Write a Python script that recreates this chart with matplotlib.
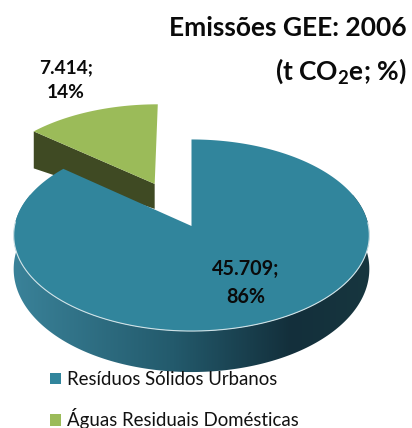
import numpy as np
import matplotlib
matplotlib.use("Agg")
import matplotlib.pyplot as plt
from matplotlib.patches import Polygon, Patch
from matplotlib.colors import LinearSegmentedColormap

categories = ["Resíduos Sólidos Urbanos", "Águas Residuais Domésticas"]
values = [45709, 7414]
title_lines = ["Emissões GEE: 2006", r"(t CO$_{\mathbf{2}}$e; %)"]

plt.rcParams["font.family"] = "Lato"
plt.rcParams["mathtext.fontset"] = "custom"
plt.rcParams["mathtext.bf"] = "Lato:bold"
plt.rcParams["mathtext.rm"] = "Lato:bold"

BLUE, GREEN, GREEN_SIDE = "#31859c", "#9bbb59", "#3f4a23"
side_cmap = LinearSegmentedColormap.from_list(
    "side", [(0, "#3a8299"), (0.45, "#235a6c"), (0.78, "#132f3b"), (1, "#17363f")])

CX, CY, A, B, K = 191.5, 226.0, 177.0, 94.9, 0.0966


def project(u, v):
    w = 1 + K * v
    return CX + A * u / w, CY - B * v / w


fig = plt.figure(figsize=(4.12, 4.28), dpi=100)
ax = fig.add_axes([0, 0, 1, 1])

fractions = np.array(values) / sum(values)
end_blue = 2 * np.pi * fractions[0]

# Blue slice: side wall filled with a left-to-right gradient, then the top
thetas = np.linspace(np.radians(70), np.radians(290), 220)
u, v = np.sin(thetas), np.cos(thetas)
sx, sy = project(u, v)
depth = 33 - 8 * v
wall = Polygon(list(zip(sx, sy)) + list(zip(sx[::-1], (sy + depth)[::-1])), closed=True,
               fc="none", ec="none", zorder=3)
ax.add_patch(wall)
grad = ax.imshow(np.linspace(0, 1, 256).reshape(1, -1), cmap=side_cmap, aspect="auto",
                 extent=(13, 370, 428, 0), zorder=3)
grad.set_clip_path(wall)

arc = np.linspace(0, end_blue, 300)
xs, ys = project(np.sin(arc), np.cos(arc))
ax.add_patch(Polygon(list(zip(xs, ys)) + [(CX, CY)], closed=True, fc=BLUE, ec="none", zorder=4))
front = (np.cos(arc) < 0.05)
ax.plot(xs[front], ys[front], color="#cfe2e7", lw=0.8, zorder=5)

# Green slice, pulled away from the centre
mid = end_blue + np.pi * fractions[1]
E = 0.512
eu, ev = E * np.sin(mid), E * np.cos(mid)
arc2 = np.linspace(end_blue, 2 * np.pi, 80)
gx, gy = project(eu + np.sin(arc2), ev + np.cos(arc2))
tx, ty = project(eu, ev)
ax.add_patch(Polygon([(gx[0], gy[0]), (gx[0], gy[0] + 37), (tx, ty + 25), (tx, ty)],
                     closed=True, fc=GREEN_SIDE, ec="none", zorder=2))
ax.add_patch(Polygon(list(zip(gx, gy)) + [(tx, ty)], closed=True, fc=GREEN, ec="none", zorder=2.5))


def label(i):
    return f"{values[i]:,}".replace(",", ".") + f";\n{fractions[i] * 100:.0f}%"


ax.text(246, 283, label(0), ha="center", va="center", fontsize=14.2, fontweight="bold",
        linespacing=1.55, color="#0a0a0a", zorder=6)
ax.text(66, 80, label(1), ha="center", va="center", fontsize=13.8, fontweight="bold",
        linespacing=1.6, color="#0a0a0a", zorder=6)

ax.text(407, 28, title_lines[0], ha="right", va="center", fontsize=19, fontweight="bold", color="#0a0a0a")
ax.text(407, 71, title_lines[1], ha="right", va="center", fontsize=19, fontweight="bold", color="#0a0a0a")

handles = [Patch(fc=BLUE, ec="none"), Patch(fc=GREEN, ec="none")]
ax.legend(handles, categories, loc="upper left", bbox_to_anchor=(50 / 412, 1 - 371 / 428),
          frameon=False, fontsize=13.4, handlelength=0.6, handleheight=0.6, handletextpad=0.3,
          labelspacing=1.1, borderpad=0, borderaxespad=0, labelcolor="#111111")

ax.set_xlim(0, 412)
ax.set_ylim(428, 0)
ax.axis("off")
fig.savefig("out.png", dpi=100, facecolor="white")
